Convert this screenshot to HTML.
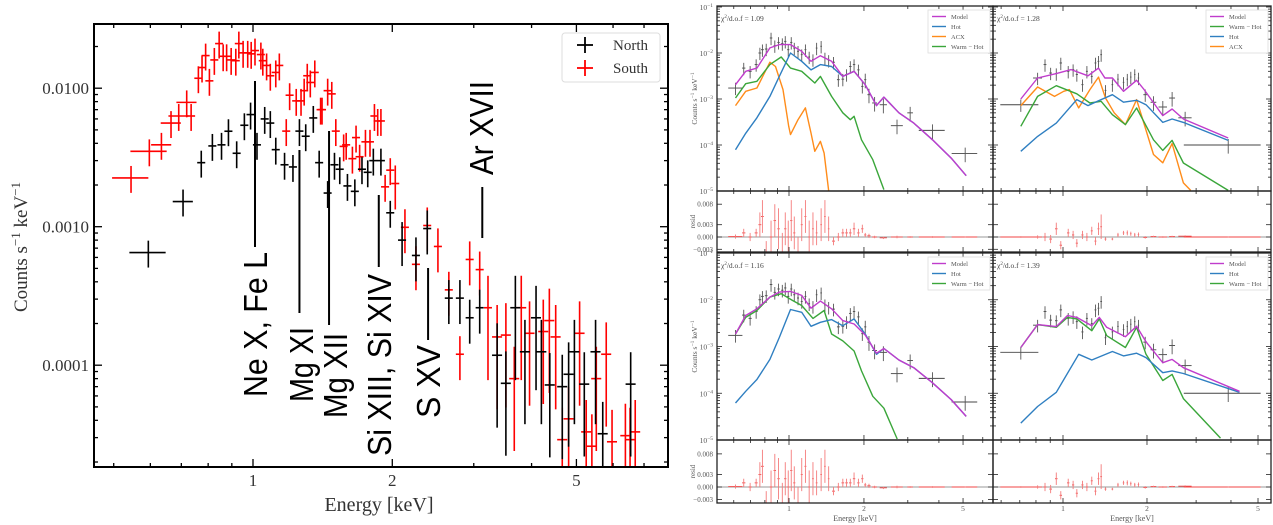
<!DOCTYPE html>
<html><head><meta charset="utf-8">
<style>
html,body{margin:0;padding:0;background:#fff;}
svg{display:block;font-family:"Liberation Serif",serif;}
</style></head>
<body>
<svg id="fig" width="1273" height="525" viewBox="0 0 1273 525" xmlns="http://www.w3.org/2000/svg"></svg>
<script>
// ---------------- LEFT PANEL DATA ----------------
const northE = [0.594,0.706,0.773,0.817,0.855,0.885,0.922,0.958,0.988,1.02,1.06,1.09,1.12,1.17,1.22,1.26,1.30,1.35,1.39,1.45,1.50,1.54,1.60,1.66,1.72,1.77,1.82,1.89,1.98,2.10,2.25,2.38,2.65,2.80,2.94,3.09,3.37,3.52,3.69,3.87,4.09,4.2,4.38,4.66,4.81,4.95,5.2,5.5,5.7,6.55];
const northV = [6.5e-4,1.52e-3,2.9e-3,3.83e-3,3.9e-3,4.89e-3,3.39e-3,5.4e-3,6.45e-3,3.9e-3,6.0e-3,5.6e-3,3.6e-3,2.8e-3,2.7e-3,4.9e-3,4.5e-3,6.1e-3,2.9e-3,1.75e-3,2.8e-3,2.6e-3,1.97e-3,1.8e-3,2.6e-3,2.47e-3,3.0e-3,3.0e-3,1.26e-3,8.0e-4,6.2e-4,9.7e-4,3.05e-4,3.05e-4,2.2e-4,2.6e-4,1.18e-4,7.4e-5,2.6e-4,1.25e-4,2.2e-4,1.25e-4,7.2e-5,7e-5,8.6e-5,1.25e-4,7.3e-5,1.25e-4,3.2e-5,7.3e-5];
const southE = [0.545,0.597,0.634,0.665,0.691,0.719,0.735,0.762,0.776,0.79,0.805,0.825,0.845,0.862,0.877,0.897,0.918,0.932,0.952,0.974,0.991,1.01,1.04,1.05,1.07,1.09,1.12,1.14,1.18,1.20,1.24,1.27,1.29,1.31,1.33,1.36,1.40,1.41,1.45,1.48,1.51,1.57,1.59,1.64,1.67,1.70,1.75,1.79,1.83,1.86,1.89,1.93,1.98,2.03,2.13,2.25,2.38,2.51,2.65,2.80,2.94,3.09,3.22,3.37,3.52,3.67,3.80,3.96,4.24,4.37,4.51,4.66,4.81,5.08,5.25,5.40,5.52,5.8,5.97,6.38,6.53,6.7];
const southV = [2.25e-3,3.5e-3,3.9e-3,5.6e-3,6.3e-3,7.9e-3,6.3e-3,0.0118,0.0141,0.0172,0.0113,0.016,0.021,0.017,0.017,0.016,0.0158,0.021,0.018,0.018,0.0177,0.0187,0.0175,0.0158,0.0146,0.0123,0.013,0.0146,4.9e-3,8.9e-3,8.1e-3,8.1e-3,9.6e-3,0.0123,0.011,0.013,7.0e-3,7.0e-3,9.6e-3,9.1e-3,4.9e-3,3.8e-3,3.9e-3,3.1e-3,4.4e-3,3.2e-3,4.1e-3,4.1e-3,6.3e-3,5.8e-3,5.8e-3,1.94e-3,2.56e-3,2.05e-3,9.9e-4,5.35e-4,1.02e-3,7.2e-4,3.5e-4,1.2e-4,5.8e-4,4.9e-4,2.6e-4,1.6e-4,1.65e-4,8e-5,2.6e-4,1.7e-4,1.75e-4,2.1e-4,1.6e-4,2.9e-5,4.1e-5,1.7e-4,3.3e-5,2.6e-5,8e-5,1.2e-4,2.8e-5,3.1e-5,2.9e-5,3.3e-5];
const leftXTicks = [1,2,5];
const leftXTickLabels = ["1","2","5"];
const leftYTicks = [1e-4,1e-3,1e-2];
const leftYTickLabels = ["0.0001","0.0010","0.0100"];
const lineLabels = ["Ne X, Fe L","Mg XI","Mg XII","Si XIII, Si XIV","S XV","Ar XVII"];
const lineEnergies = [1.01,1.26,1.46,1.87,2.39,3.13];

// ---------------- RIGHT PANELS DATA ----------------
const dataLE = [0.61,0.658,0.698,0.738,0.764,0.782,0.81,0.847,0.877,0.908,0.94,0.966,0.993,1.021,1.05,1.087,1.125,1.164,1.205,1.248,1.291,1.346,1.394,1.443,1.509,1.578,1.645,1.703,1.763,1.825,1.9,1.97,2.024,2.095,2.207,2.393,2.715,3.066,3.77,5.1];
const dataLV = [1.73e-3,4.7e-3,4.0e-3,5.6e-3,0.01,0.0118,0.0122,0.0212,0.0144,0.017,0.016,0.0179,0.0118,0.017,0.0128,0.0109,9.2e-3,0.0118,8.2e-3,7.2e-3,0.0128,0.014,7.8e-3,6.9e-3,6.3e-3,2.63e-3,2.7e-3,3.4e-3,5.1e-3,5.6e-3,4.3e-3,1.88e-3,2.63e-3,1.24e-3,8.2e-4,7.5e-4,2.63e-4,5.0e-4,2.08e-4,6.5e-5];
const dataLXerr = [0.04,0.01,0.01,0.01,0.01,0.01,0.01,0.01,0.01,0.01,0.01,0.01,0.01,0.01,0.01,0.01,0.01,0.01,0.01,0.01,0.01,0.01,0.01,0.01,0.02,0.02,0.02,0.02,0.02,0.02,0.02,0.02,0.02,0.03,0.05,0.08,0.15,0.08,0.45,0.6];
// residuals in units of 0.001
const residL = [0.1,1,0,1,3,5,-5,0,4,2,-4,2,0,4,1,-4,3,5,0,2,1,3,5,2,-1,0,1,1,1,2,1,2,0.5,0.3,0,-0.2,0,0,0,0];
const residLerr = [0.5,1,1,1,3,4,4,4,4,5,5,4,4,5,4,4,4,4,4,4,3,4,4,3,1,1,1,1,1,1.5,1,1,0.5,0.5,0.3,0.3,0.3,0.2,0.2,0.1];
const dataRE = [0.706,0.811,0.862,0.903,0.946,0.982,1.044,1.087,1.121,1.174,1.218,1.268,1.307,1.34,1.37,1.42,1.503,1.574,1.648,1.7,1.75,1.808,1.864,1.971,2.11,2.279,2.461,2.74,3.91];
const dataRV = [7.5e-4,2.86e-3,5.6e-3,3.67e-3,3.56e-3,6.07e-3,4.0e-3,4.35e-3,3.4e-3,2.05e-3,4.0e-3,3.1e-3,6.07e-3,6.6e-3,9.2e-3,1.54e-3,2.05e-3,2.7e-3,2.3e-3,2.7e-3,3.0e-3,3.4e-3,2.86e-3,1.24e-3,8.5e-4,6.7e-4,1.05e-3,3.9e-4,1.0e-4];
const dataRXerr = [0.11,0.03,0.01,0.01,0.01,0.01,0.01,0.01,0.01,0.01,0.01,0.01,0.01,0.01,0.01,0.01,0.01,0.01,0.01,0.01,0.01,0.01,0.01,0.03,0.05,0.08,0.06,0.15,1.2];
const residR = [0,0,0,-0.5,2,-2,1,0.5,-1.5,0.5,0,1.5,-1,2,2.5,-0.5,-0.5,0.5,1,1,0.8,0.5,0.6,-0.1,0.1,0,0.1,0.2,0];
const residRerr = [0.2,0.4,1,1,1.5,1,1,1,1,1,1,1,1,1.5,3,0.4,0.3,0.5,0.5,0.6,0.5,0.5,0.5,0.3,0.2,0.2,0.2,0.2,0.1];

// Panel A (top-left)
const aModelE = [0.61,0.67,0.743,0.838,0.914,1.014,1.125,1.226,1.337,1.483,1.645,1.825,2.024,2.245,2.406,2.762,3.17,3.77,4.48,5.15];
const aModelV = [2.05e-3,4.0e-3,4.7e-3,0.0129,0.0152,0.0152,0.0109,6.6e-3,8.75e-3,6.6e-3,3.1e-3,4.0e-3,2.05e-3,7.2e-4,1.1e-3,5e-4,3e-4,1.3e-4,5.2e-5,2.15e-5];
const aHotV = [7.9e-5,1.8e-4,3.9e-4,1.14e-3,3.1e-3,0.01,6.6e-3,4.3e-3,5.6e-3,5.1e-3,3.1e-3,4.0e-3,2.05e-3,7.2e-4,1.1e-3,5e-4,3e-4,1.3e-4,5.2e-5,2.15e-5];
const aAcxE = [0.61,0.67,0.743,0.838,0.883,0.946,0.997,1.014,1.087,1.164,1.226,1.269,1.337,1.384,1.443];
const aAcxV = [7.2e-4,1.47e-3,1.73e-3,6.3e-3,5.1e-3,1.6e-3,2.55e-4,1.68e-4,3.55e-4,6.4e-4,1.82e-4,7.3e-5,1.2e-4,6.7e-5,1.0e-5];
const aWarmE = [0.61,0.67,0.743,0.838,0.93,1.014,1.125,1.269,1.337,1.483,1.645,1.763,1.825,1.955,2.17,2.406];
const aWarmV = [1.05e-3,2.15e-3,2.42e-3,5.6e-3,8.2e-3,4.7e-3,4.0e-3,2.23e-3,3.1e-3,1.14e-3,5e-4,3.55e-4,4.2e-4,1.3e-4,4.8e-5,1.07e-5];
// Panel B (top-right)
const bModelE = [0.706,0.811,0.946,1.07,1.229,1.34,1.413,1.503,1.648,1.836,1.953,2.279,2.461,2.70,3.91];
const bModelV = [1.0e-3,2.86e-3,3.56e-3,4.35e-3,3.2e-3,4.7e-3,2.86e-3,2.86e-3,1.47e-3,2.55e-3,1.6e-3,4.35e-4,6.07e-4,3.67e-4,1.42e-4];
const bHotE = [0.706,0.811,0.946,1.121,1.229,1.328,1.503,1.648,1.836,1.983,2.279,2.461,2.70,3.91];
const bHotV = [7.3e-5,1.54e-4,3.0e-4,9.7e-4,7.2e-4,8.9e-4,1.24e-3,8.5e-4,9.35e-4,7.5e-4,3.1e-4,3.67e-4,3.1e-4,1.26e-4];
const bWarmE = [0.706,0.811,0.946,1.121,1.249,1.37,1.503,1.674,1.836,2.11,2.279,2.461,2.70,3.91];
const bWarmV = [2.55e-4,1.14e-3,1.95e-3,1.3e-3,8.2e-4,8.9e-4,4.56e-4,2.77e-4,6.37e-4,1.3e-4,7.65e-5,1.26e-4,4.06e-5,1.03e-5];
const bAcxE = [0.706,0.811,0.932,1.006,1.054,1.138,1.249,1.34,1.42,1.526,1.674,1.836,2.11,2.279,2.461,2.70,2.87];
const bAcxV = [7.2e-4,1.82e-3,1.14e-3,1.47e-3,1.6e-3,6.4e-4,1.6e-3,3.0e-3,1.05e-3,5.0e-4,2.77e-4,9.7e-4,6.2e-5,4.1e-5,1.07e-4,1.5e-5,1.03e-5];
// Panel C (bottom-left)
const cModelV = [1.85e-3,4.6e-3,6.4e-3,0.0114,0.0146,0.0151,0.0124,6.6e-3,9.35e-3,6.4e-3,3.58e-3,3.03e-3,1.76e-3,7.2e-4,9.06e-4,5.15e-4,3.52e-4,1.67e-4,7.3e-5,3.19e-5];
const cHotV = [6.2e-5,1.1e-4,1.97e-4,5.3e-4,1.56e-3,6.2e-3,5.4e-3,2.7e-3,3.3e-3,3.77e-3,2.79e-3,3.9e-3,1.85e-3,6.8e-4,9.06e-4,5.15e-4,3.52e-4,1.67e-4,7.3e-5,3.19e-5];
const cWarmE = [0.61,0.67,0.743,0.838,0.93,1.032,1.125,1.248,1.384,1.483,1.645,1.825,1.955,2.17,2.406,2.72];
const cWarmV = [1.85e-3,4.2e-3,5.9e-3,0.0114,0.0135,9.7e-3,7.55e-3,4.0e-3,5.9e-3,1.85e-3,1.32e-3,8.0e-4,3.0e-4,8.6e-5,4.8e-5,1.05e-5];
// Panel D (bottom-right)
const dModelE = [0.706,0.811,0.946,1.038,1.121,1.268,1.349,1.434,1.674,1.836,1.983,2.279,2.461,2.70,4.29];
const dModelV = [9.5e-4,2.94e-3,2.66e-3,4.6e-3,4.2e-3,2.79e-3,4.2e-3,2.57e-3,1.62e-3,2.7e-3,1.26e-3,4.5e-4,5.3e-4,3.52e-4,1.1e-4];
const dHotE = [0.706,0.811,0.946,1.138,1.268,1.503,1.648,1.836,1.983,2.279,2.461,2.70,4.29];
const dHotV = [2.3e-5,5.2e-5,1.05e-4,6.8e-4,5.15e-4,7.8e-4,6.3e-4,7.2e-4,5.8e-4,2.75e-4,3.0e-4,2.65e-4,1.05e-4];
const dWarmE = [0.706,0.811,0.946,1.038,1.121,1.268,1.349,1.434,1.674,1.836,1.983,2.279,2.461,2.70,3.67];
const dWarmV = [9.5e-4,2.94e-3,2.57e-3,4.2e-3,3.9e-3,2.18e-3,3.9e-3,1.7e-3,9.5e-4,2.57e-3,6.8e-4,1.87e-4,2.53e-4,7.7e-5,1.1e-5];

// residual ticks in units of 0.001
const residTicks = [8,3,0,-3];
const residTickLabels = ["0.008","0.003","0.000","\u22120.003"];
const mainTickExps = [-1,-2,-3,-4,-5];

const NS = "http://www.w3.org/2000/svg";
const svg = document.getElementById('fig');
function el(tag, attrs, parent){
  const e = document.createElementNS(NS, tag);
  for (const k in attrs) e.setAttribute(k, attrs[k]);
  (parent||svg).appendChild(e);
  return e;
}
const lg = Math.log10;

// ================= LEFT PANEL =================
const L = {x0:94,x1:668,y0:24,y1:467};
const xL = E => 253 + 462.7*lg(E);
const yL = v => 88.2 - 138.5*(lg(v)+2);
const gL = el('g',{});


const clipL = el('clipPath',{id:'clipL'},gL);
el('rect',{x:L.x0,y:L.y0,width:L.x1-L.x0,height:L.y1-L.y0},clipL);

function drawLeftSeries(Es, Vs, color, name){
  const g = el('g',{'clip-path':'url(#clipL)',stroke:color,'stroke-width':1.6},gL);
  
  
  for (let i=0;i<Es.length;i++){
    const E=Es[i], v=Vs[i];
    const xf = E<0.6?0.09:(E<0.72?0.05:(E>3.3?0.025:0.02));
    const rel = E<2?0.22:(E<3.2?0.35:0.7);
    const cx=xL(E), cy=yL(v);
    el('line',{x1:xL(E*(1-xf)),x2:xL(E*(1+xf)),y1:cy,y2:cy},g);
    const lo = yL(v*(1-rel));
    el('line',{x1:cx,x2:cx,y1:yL(v*(1+rel)),y2:Math.min(lo,L.y1+5)},g);
  }
}
drawLeftSeries(southE,southV,'#ff0000','south-series');
drawLeftSeries(northE,northV,'#000000','north-series');

// annotations
const annoTop=[81,150,131,195,268,187], annoBot=[247,313,325,267,340,238];
const txtBase=[267,313,347,391,440,493], txtBottom=[397,402,418,456,418,175], txtLen=[145,75,85,182,73,94];
for (let i=0;i<lineLabels.length;i++){
  const x=xL(lineEnergies[i]);
  const ln=el('line',{x1:x,x2:x,y1:annoTop[i],y2:annoBot[i],stroke:'#000','stroke-width':2},gL);
  
  
  const t=el('text',{x:0,y:0,transform:`translate(${txtBase[i]},${txtBottom[i]}) rotate(-90)`,'font-family':'Liberation Sans, sans-serif','font-size':33,textLength:txtLen[i],lengthAdjust:'spacingAndGlyphs',fill:'#000'},gL);
  t.textContent=lineLabels[i];
  
  
}

// frame & ticks
el('rect',{x:L.x0,y:L.y0,width:L.x1-L.x0,height:L.y1-L.y0,fill:'none',stroke:'#000','stroke-width':2},gL);
const tg = el('g',{stroke:'#000','stroke-width':1.3},gL);
[0.5,0.6,0.7,0.8,0.9,1,2,3,4,5,6,7].forEach(E=>{
  const x=xL(E); const major=leftXTicks.includes(E); const len=major?8:4;
  el('line',{x1:x,x2:x,y1:L.y1,y2:L.y1-len},tg);
  el('line',{x1:x,x2:x,y1:L.y0,y2:L.y0+len},tg);
});
for (let d=-5; d<=-2; d++) for (let m=1;m<=9;m++){
  const v=m*Math.pow(10,d); const y=yL(v);
  if (y<L.y0||y>L.y1) continue;
  const len=m===1?8:4;
  el('line',{x1:L.x0,x2:L.x0+len,y1:y,y2:y},tg);
  el('line',{x1:L.x1,x2:L.x1-len,y1:y,y2:y},tg);
}
leftXTicks.forEach((E,i)=>{
  const t=el('text',{x:xL(E),y:486,'text-anchor':'middle','font-size':17,fill:'#333'},gL);
  t.textContent=leftXTickLabels[i];
  
  
});
leftYTicks.forEach((v,i)=>{
  const t=el('text',{x:89,y:yL(v)+6,'text-anchor':'end','font-size':17,fill:'#333'},gL);
  t.textContent=leftYTickLabels[i];
  
  
});
{
  const t=el('text',{x:379,y:511,'text-anchor':'middle','font-size':20,fill:'#333'},gL);
  t.textContent='Energy [keV]';
  
  
  const y=el('text',{transform:'translate(27,247) rotate(-90)','text-anchor':'middle','font-size':19,fill:'#333'},gL);
  y.innerHTML='Counts s<tspan dy="-7" font-size="13">\u22121</tspan><tspan dy="7"> keV</tspan><tspan dy="-7" font-size="13">\u22121</tspan>';
  
  
}
// legend
{
  const lgG=el('g',{},gL);
  
  
  el('rect',{x:562,y:33,width:98,height:49,rx:3,fill:'#fff',stroke:'#ddd','stroke-width':1},lgG);
  [['North','#000',45],['South','#ff0000',68]].forEach(([n,c,y])=>{
    const e=el('g',{},lgG);
    
    
    el('line',{x1:577,x2:593,y1:y,y2:y,stroke:c,'stroke-width':1.8},e);
    el('line',{x1:585,x2:585,y1:y-8,y2:y+8,stroke:c,'stroke-width':1.8},e);
    const t=el('text',{x:613,y:y+5,'font-size':15,fill:'#333'},e);
    t.textContent=n;
  });
}

// ================= RIGHT PANELS =================
const colX = [{x0:717,x1:993,c:789,k:249},{x0:993,x1:1271,c:1063,k:279}];
const rows = [{top:6,mid:191,bot:252,d1:7,k:46,r0:237,rk:4.1},{top:253,mid:440,bot:503,d1:253,k:46.75,r0:487,rk:4.14}];
const colors = {model:'#c03ccc',hot:'#2f7fc1',acx:'#ff8c1a',warm:'#3aa63a'};
const panels = [
  {col:0,row:0,chi:'1.09',data:[dataLE,dataLV,dataLXerr],resid:[residL,residLerr],
   curves:[['acx',aAcxE,aAcxV],['warm',aWarmE,aWarmV],['hot',aModelE,aHotV],['model',aModelE,aModelV]],
   legend:[['Model','model'],['Hot','hot'],['ACX','acx'],['Warm \u2212 Hot','warm']]},
  {col:1,row:0,chi:'1.28',data:[dataRE,dataRV,dataRXerr],resid:[residR,residRerr],
   curves:[['acx',bAcxE,bAcxV],['warm',bWarmE,bWarmV],['hot',bHotE,bHotV],['model',bModelE,bModelV]],
   legend:[['Model','model'],['Warm \u2212 Hot','warm'],['Hot','hot'],['ACX','acx']]},
  {col:0,row:1,chi:'1.16',data:[dataLE,dataLV,dataLXerr],resid:[residL,residLerr],
   curves:[['warm',cWarmE,cWarmV],['hot',aModelE,cHotV],['model',aModelE,cModelV]],
   legend:[['Model','model'],['Hot','hot'],['Warm \u2212 Hot','warm']]},
  {col:1,row:1,chi:'1.39',data:[dataRE,dataRV,dataRXerr],resid:[residR,residRerr],
   curves:[['warm',dWarmE,dWarmV],['hot',dHotE,dHotV],['model',dModelE,dModelV]],
   legend:[['Model','model'],['Hot','hot'],['Warm \u2212 Hot','warm']]},
];
panels.forEach((p,pi)=>{
  const C=colX[p.col], R=rows[p.row];
  const X=E=>C.c+C.k*lg(E);
  const Y=v=>R.d1+(-1-lg(v))*R.k;
  const RY=r=>R.r0-r*R.rk;
  const g=el('g',{});
  
  
  const cid='clipP'+pi, rid='clipR'+pi;
  const cp=el('clipPath',{id:cid},g); el('rect',{x:C.x0,y:R.top,width:C.x1-C.x0,height:R.mid-R.top},cp);
  const rp=el('clipPath',{id:rid},g); el('rect',{x:C.x0,y:R.mid,width:C.x1-C.x0,height:R.bot-R.mid},rp);
  // data
  const dg=el('g',{'clip-path':`url(#${cid})`,stroke:'#555','stroke-width':0.9},g);
  
  
  const [dE,dV,dX]=p.data;
  for(let i=0;i<dE.length;i++){
    const x=X(dE[i]), y=Y(dV[i]); const rel=dE[i]<2?0.3:0.35;
    el('line',{x1:X(dE[i]-dX[i]),x2:X(dE[i]+dX[i]),y1:y,y2:y,stroke:'#444'},dg);
    el('line',{x1:x,x2:x,y1:Y(dV[i]*(1+rel)),y2:Y(dV[i]*(1-rel))},dg);
  }
  // curves
  p.curves.forEach(([k,Es,Vs])=>{
    const pts=Es.map((E,i)=>X(E).toFixed(1)+','+Y(Vs[i]).toFixed(1)).join(' ');
    const pl=el('polyline',{points:pts,fill:'none',stroke:colors[k],'stroke-width':1.4,'stroke-linejoin':'round','clip-path':`url(#${cid})`},g);
    
    
  });
  // residuals
  el('line',{x1:C.x0,x2:C.x1,y1:RY(0),y2:RY(0),stroke:'#999','stroke-width':1},g);
  const rg=el('g',{'clip-path':`url(#${rid})`,stroke:'#f47a7a','stroke-width':0.9},g);
  
  
  const [rv,re]=p.resid;
  for(let i=0;i<dE.length;i++){
    const x=X(dE[i]), y=RY(rv[i]);
    el('line',{x1:X(dE[i]-dX[i]),x2:X(dE[i]+dX[i]),y1:y,y2:y,stroke:'#f04545'},rg);
    el('line',{x1:x,x2:x,y1:RY(rv[i]+re[i]),y2:RY(rv[i]-re[i])},rg);
  }
  // frames
  el('rect',{x:C.x0,y:R.top,width:C.x1-C.x0,height:R.mid-R.top,fill:'none',stroke:'#222','stroke-width':1.3},g);
  el('rect',{x:C.x0,y:R.mid,width:C.x1-C.x0,height:R.bot-R.mid,fill:'none',stroke:'#222','stroke-width':1.3},g);
  const tk=el('g',{stroke:'#222','stroke-width':0.8},g);
  [0.6,0.7,0.8,0.9,1,2,3,4,5,6].forEach(E=>{
    const x=X(E); if(x<=C.x0||x>=C.x1) return;
    const len=[1,2,5].includes(E)?5:3;
    [R.top,R.mid].forEach(yy=>el('line',{x1:x,x2:x,y1:yy,y2:yy+len},tk));
    [R.mid,R.bot].forEach(yy=>el('line',{x1:x,x2:x,y1:yy,y2:yy-len},tk));
  });
  for(let d=-5; d<=-1; d++) for(let m=1;m<=9;m++){
    const y=Y(m*Math.pow(10,d)); if(y<R.top||y>R.mid) continue;
    const len=m===1?5:3;
    el('line',{x1:C.x0,x2:C.x0+len,y1:y,y2:y},tk);
    el('line',{x1:C.x1,x2:C.x1-len,y1:y,y2:y},tk);
  }
  residTicks.forEach(r=>{
    const y=RY(r); if(y<R.mid||y>R.bot) return;
    el('line',{x1:C.x0,x2:C.x0+5,y1:y,y2:y},tk);
    el('line',{x1:C.x1,x2:C.x1-5,y1:y,y2:y},tk);
  });
  // labels
  if(p.col===0){
    mainTickExps.forEach(e=>{
      const t=el('text',{x:713,y:Y(Math.pow(10,e))+3,'text-anchor':'end','font-size':7.5,fill:'#555'},g);
      t.innerHTML='10<tspan dy="-3" font-size="5.5">\u2212'+(-e)+'</tspan>';
      
      
    });
    residTicks.forEach((r,i)=>{
      const y=RY(r); if(y<R.mid+2||y>R.bot) return;
      const t=el('text',{x:713,y:y+2.5,'text-anchor':'end','font-size':7,fill:'#555'},g);
      t.textContent=residTickLabels[i];
      
      
    });
    const yt=el('text',{transform:`translate(697,${(R.top+R.mid)/2}) rotate(-90)`,'text-anchor':'middle','font-size':7.5,fill:'#555'},g);
    yt.innerHTML='Counts s<tspan dy="-3" font-size="5.5">\u22121</tspan><tspan dy="3"> keV</tspan><tspan dy="-3" font-size="5.5">\u22121</tspan>';
    
    
    const rt=el('text',{transform:`translate(695,${(R.mid+R.bot)/2}) rotate(-90)`,'text-anchor':'middle','font-size':7,fill:'#555'},g);
    rt.textContent='resid';
    
    
  }
  if(p.row===1){
    [1,2,5].forEach(E=>{
      const t=el('text',{x:X(E),y:511,'text-anchor':'middle','font-size':7.5,fill:'#555'},g);
      t.textContent=String(E);
      
      
    });
    const xt=el('text',{x:(C.x0+C.x1)/2,y:521,'text-anchor':'middle','font-size':8,fill:'#555'},g);
    xt.textContent='Energy [keV]';
    
    
  }
  const ct=el('text',{x:C.x0+4,y:R.top+15,'font-size':7.5,fill:'#444'},g);
  ct.innerHTML='\u03c7<tspan dy="-3" font-size="5">2</tspan><tspan dy="3">/d.o.f = '+p.chi+'</tspan>';
  
  
  // legend
  const lgx=C.x1-65, lgy=R.top+4;
  const lgG=el('g',{},g);
  
  
  el('rect',{x:lgx,y:lgy,width:62,height:p.legend.length*10+3,fill:'#fff',stroke:'#ddd','stroke-width':0.8},lgG);
  p.legend.forEach(([n,k],i)=>{
    const yy=lgy+6.5+i*10;
    const e=el('g',{},lgG);
    
    
    el('line',{x1:lgx+4,x2:lgx+18,y1:yy,y2:yy,stroke:colors[k],'stroke-width':1.4},e);
    const t=el('text',{x:lgx+23,y:yy+2.5,'font-size':6.5,fill:'#555'},e);
    t.textContent=n;
  });
});
</script>
</body></html>
